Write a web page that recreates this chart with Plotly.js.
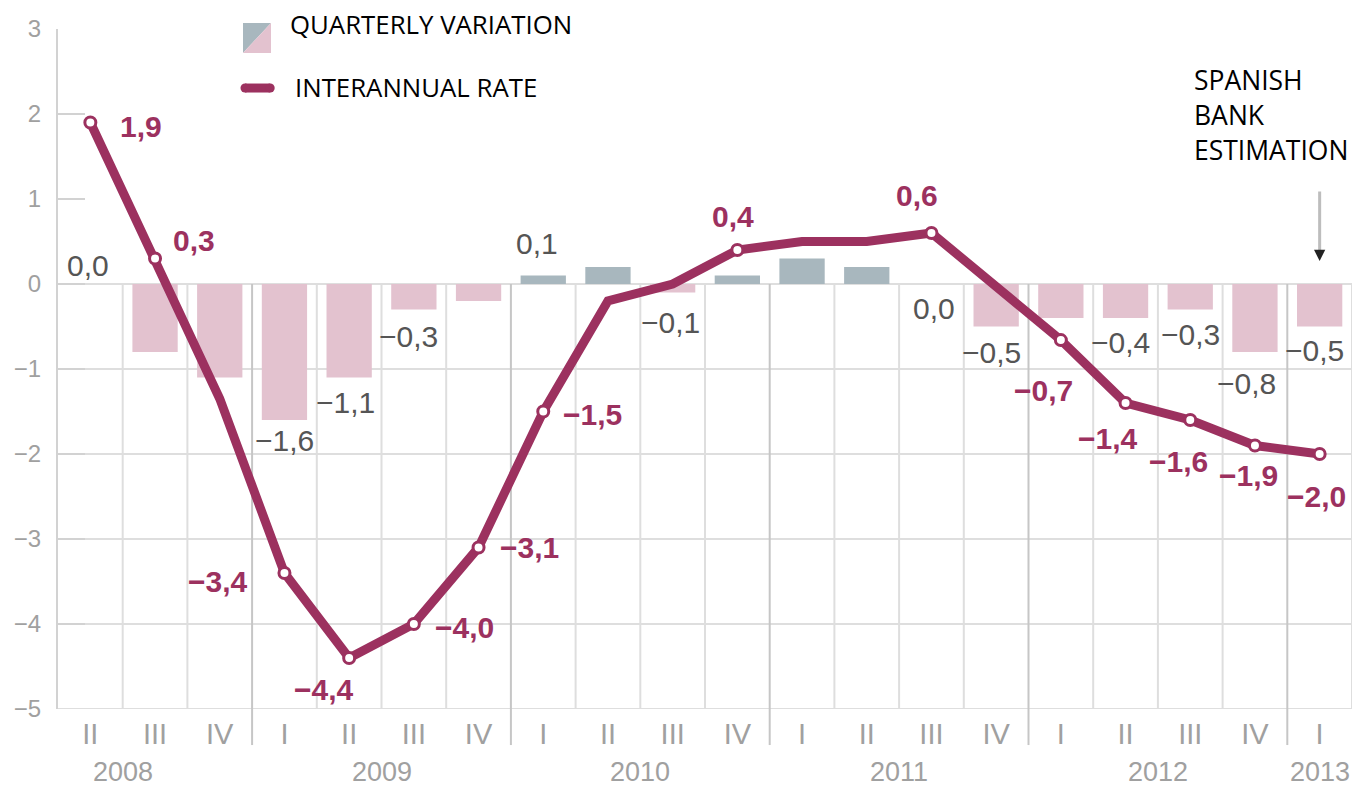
<!DOCTYPE html>
<html>
<head>
<meta charset="utf-8">
<script src="https://cdn.plot.ly/plotly-3.0.1.min.js"></script>
<style>html,body{margin:0;padding:0;background:#fff;}#chart{width:1358px;height:789px;}</style>
</head>
<body>
<div id="chart"></div>
<script>
// ---- data ----
const years    = ["2008","2008","2008","2009","2009","2009","2009","2010","2010","2010","2010","2011","2011","2011","2011","2012","2012","2012","2012","2013"];
const quarters = ["II","III","IV","I","II","III","IV","I","II","III","IV","I","II","III","IV","I","II","III","IV","I"];
const quarterlyVariation = [0.0,-0.8,-1.1,-1.6,-1.1,-0.3,-0.2,0.1,0.2,-0.1,0.1,0.3,0.2,0.0,-0.5,-0.4,-0.4,-0.3,-0.8,-0.5];
const interannualRate   = [1.9,0.3,-1.35,-3.4,-4.4,-4.0,-3.1,-1.5,-0.2,0.0,0.4,0.5,0.5,0.6,-0.03,-0.66,-1.4,-1.6,-1.9,-2.0];
const labelledRatePoints = [0,1,3,4,5,6,7,10,13,15,16,17,18,19];
const labelledBars       = [0,3,4,5,7,9,13,14,16,17,18,19];
const legendNames = ["QUARTERLY VARIATION","INTERANNUAL RATE"];
const noteLines = ["SPANISH","BANK","ESTIMATION"];

// ---- styling ----
const LINE = "#9c315f", PINK = "#e3c2cf", GREYBLUE = "#a8b7be";
const GRID = "#dedede", YEARGRID = "#c6c6c6", TXT = "#a0a0a0";
const NUMFONT = "Liberation Sans, Arial, sans-serif";
const TXTFONT = "Open Sans, sans-serif";
const cats = years.map((y,i)=> y + " " + quarters[i]);
const fmt = v => (v < 0 ? "\u2212" : "") + Math.abs(v).toFixed(1).replace(".", ",");

// label offsets (screen px: dx right, dy down)
const rateOff = {0:[51,4],1:[39,-18],3:[-66,8],4:[-25,31],5:[51,3],6:[51,0],7:[49,3],10:[-4,-34],13:[-14,-38],15:[-17,50],16:[-18,35],17:[-12,41],18:[-6,30],19:[-3,42]};
const barOff  = {0:[-2,-19],3:[0,20],4:[-4,25],5:[-5,27],7:[-6,-32],9:[-2,30],13:[3,24],14:[-5,26],16:[-5,24],17:[0,25],18:[-8,31],19:[-5,24]};

const traces = [
  {type:"bar", x:cats, y:quarterlyVariation, width:0.7,
   marker:{color:quarterlyVariation.map(v=> v>0 ? GREYBLUE : PINK)}, hoverinfo:"none", showlegend:false},
  {type:"scatter", mode:"lines", x:cats, y:interannualRate,
   line:{color:LINE, width:9}, hoverinfo:"none", showlegend:false},
  {type:"scatter", mode:"markers", x:labelledRatePoints.map(i=>cats[i]), y:labelledRatePoints.map(i=>interannualRate[i]),
   marker:{size:11, color:"#fff", line:{color:LINE, width:3}}, hoverinfo:"none", showlegend:false}
];

const shapes = [];
// horizontal grid only in the negative zone
for (let v = 0; v >= -5; v--) {
  shapes.push({type:"line", xref:"paper", yref:"y", x0:0, x1:1, y0:v, y1:v, line:{color:GRID, width:2}, layer:"below"});
}
// vertical grid at category boundaries
for (let k = 1; k <= cats.length; k++) {
  const isYear = k < cats.length && quarters[k] === "I";
  shapes.push({type:"line", xref:"x", yref:"y", x0:k-0.5, x1:k-0.5, y0:0, y1:-5,
               line:{color: isYear ? YEARGRID : GRID, width:2}, layer:"below"});
  if (isYear) {
    shapes.push({type:"line", xref:"x", yref:"paper", x0:k-0.5, x1:k-0.5, y0:0, y1:-0.053,
                 line:{color:YEARGRID, width:2}, layer:"below"});
  }
}
// legend swatches (paper coords)
const lx0 = 0.14297, lx1 = 0.16461, lyt = 1.00882, lyb = 0.96471;
shapes.push({type:"path", xref:"paper", yref:"paper", path:`M${lx0},${lyt} L${lx1},${lyt} L${lx0},${lyb} Z`, fillcolor:GREYBLUE, line:{width:0}});
shapes.push({type:"path", xref:"paper", yref:"paper", path:`M${lx1},${lyt} L${lx1},${lyb} L${lx0},${lyb} Z`, fillcolor:PINK, line:{width:0}});
shapes.push({type:"line", xref:"paper", yref:"paper", x0:0.1445, x1:0.1640, y0:0.9132, y1:0.9132, line:{color:LINE, width:9}});
shapes.push({type:"circle", xref:"paper", yref:"paper", xsizemode:"pixel", ysizemode:"pixel", xanchor:0.1445, yanchor:0.9132, x0:-4.5, x1:4.5, y0:-4.5, y1:4.5, fillcolor:LINE, line:{width:0}});
shapes.push({type:"circle", xref:"paper", yref:"paper", xsizemode:"pixel", ysizemode:"pixel", xanchor:0.1640, yanchor:0.9132, x0:-4.5, x1:4.5, y0:-4.5, y1:4.5, fillcolor:LINE, line:{width:0}});

const annotations = [];
labelledRatePoints.forEach(i => {
  const o = rateOff[i] || [0,0];
  annotations.push({x:cats[i], y:interannualRate[i], xref:"x", yref:"y", text:"<b>"+fmt(interannualRate[i])+"</b>", showarrow:false,
    xshift:o[0], yshift:-o[1], xanchor:"center", yanchor:"middle", font:{family:NUMFONT, size:30, color:LINE}});
});
labelledBars.forEach(i => {
  const o = barOff[i] || [0,0];
  annotations.push({x:cats[i], y:quarterlyVariation[i], xref:"x", yref:"y", text:fmt(quarterlyVariation[i]), showarrow:false,
    xshift:o[0], yshift:-o[1], xanchor:"center", yanchor:"middle", font:{family:NUMFONT, size:30, color:"#555"}});
});
// year labels
[...new Set(years)].forEach(y => {
  const idx = years.map((v,i)=> v===y ? i : -1).filter(i=>i>=0);
  const qOffset = ["I","II","III","IV"].indexOf(quarters[idx[0]]);
  const firstQ1 = idx[0] - qOffset;
  const pos = Math.min(firstQ1 + 1.5, cats.length - 1);
  annotations.push({x:pos, y:(709-772)/680, xref:"x", yref:"paper", text:y, showarrow:false, xanchor:"center", yanchor:"middle",
    borderpad:0, font:{family:NUMFONT, size:27, color:TXT}});
});
// legend texts
annotations.push({x:0.1777, y:1.0074, xref:"paper", yref:"paper", text:legendNames[0], showarrow:false, xanchor:"left", yanchor:"middle",
  font:{family:TXTFONT, size:25.8, color:"#000"}});
annotations.push({x:0.1816, y:0.9147, xref:"paper", yref:"paper", text:legendNames[1], showarrow:false, xanchor:"left", yanchor:"middle",
  font:{family:TXTFONT, size:25.8, color:"#000"}});
// note
noteLines.forEach((t,j) => {
  annotations.push({x:0.8764, y:(709-(80+35*j))/680, xref:"paper", yref:"paper", text:t, showarrow:false, xanchor:"left", yanchor:"middle",
    font:{family:TXTFONT, size:26.5, color:"#000"}});
});
// arrow
annotations.push({x:cats[cats.length-1], y:(709-254)/680, xref:"x", yref:"paper", text:"", showarrow:true, ax:0, ay:-64,
  arrowhead:0, arrowwidth:3, arrowcolor:"#bdbdbd"});
annotations.push({x:cats[cats.length-1], y:(709-261)/680, xref:"x", yref:"paper", text:"", showarrow:true, ax:0, ay:-8,
  arrowhead:2, arrowsize:0.9, arrowwidth:2.5, arrowcolor:"#222"});

const layout = {
  width:1358, height:789,
  margin:{l:58, r:6, t:29, b:80, pad:0},
  paper_bgcolor:"#fff", plot_bgcolor:"#fff",
  showlegend:false, bargap:0.3,
  xaxis:{type:"category", categoryorder:"array", categoryarray:cats, range:[-0.5, cats.length-0.5],
    tickmode:"array", tickvals:cats, ticktext:quarters, ticks:"", showgrid:false, zeroline:false, showline:false,
    tickfont:{family:NUMFONT, size:29, color:TXT}, ticklabelstandoff:5, fixedrange:true},
  yaxis:{range:[-5,3], tickmode:"array", tickvals:[-5,-4,-3,-2,-1,0,1,2,3], ticks:"inside", ticklen:27, tickwidth:2, tickcolor:"#d2d2d2",
    showline:true, linecolor:"#d2d2d2", linewidth:2, showgrid:false, zeroline:false,
    tickfont:{family:NUMFONT, size:24, color:TXT}, ticklabelstandoff:10, fixedrange:true},
  shapes:shapes, annotations:annotations
};

Plotly.newPlot("chart", traces, layout, {displayModeBar:false, staticPlot:true});
</script>
</body>
</html>
